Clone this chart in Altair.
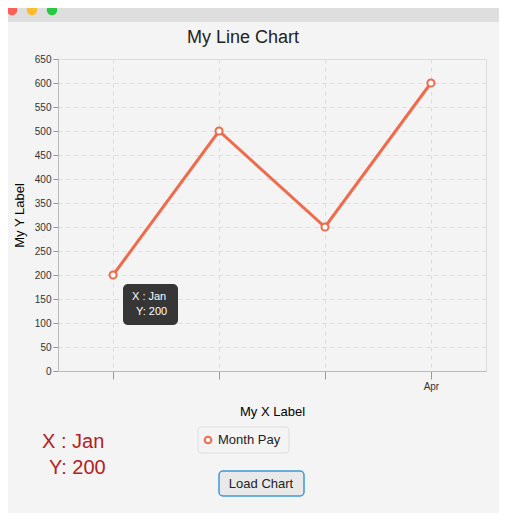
import altair as alt
import pandas as pd

months = ["Jan", "Feb", "Mar", "Apr"]
pay = [200, 500, 300, 600]
df = pd.DataFrame({"m": months, "v": pay})

OX, OY = 50, 51
W, H = 428, 312

x = alt.X("m:N", sort=months, scale=alt.Scale(type="point", padding=0.52),
          axis=alt.Axis(title="My X Label", labelAngle=0, grid=True, gridDash=[4, 4],
                        gridColor="#dddddd", labelExpr="datum.value == 'Apr' ? 'Apr' : ''",
                        titleFontWeight="normal", titleFontSize=13, titlePadding=14,
                        labelColor="#333", tickColor="#999", domainColor="#bbb", tickSize=8))
y = alt.Y("v:Q", scale=alt.Scale(domain=[0, 650], nice=False),
          axis=alt.Axis(title="My Y Label", values=list(range(0, 651, 50)), grid=True,
                        gridDash=[4, 4], gridColor="#dddddd", titleFontWeight="normal",
                        titleFontSize=13, labelColor="#333", tickColor="#999",
                        domainColor="#bbb", titlePadding=8))

line = alt.Chart(df).mark_line(color="#f06a4c", strokeWidth=3).encode(x=x, y=y)
pts = alt.Chart(df).mark_point(color="#f06a4c", fill="white", filled=True, size=50,
                               strokeWidth=2, stroke="#f06a4c", opacity=1).encode(x=x, y=y)

one = pd.DataFrame({"a": [0]})
base = alt.Chart(one)
titlebar = base.mark_rect(color="#dedede").encode(
    x=alt.value(-OX - 8), x2=alt.value(449 + 8), y=alt.value(-OY - 8), y2=alt.value(-OY + 14))
dots = alt.layer(*[
    base.mark_circle(size=110, opacity=1, color=c).encode(x=alt.value(px - 58), y=alt.value(10 - 59))
    for px, c in [(12, "#fc5f57"), (32, "#fdbc2e"), (52, "#28c840")]])
title = base.mark_text(text="My Line Chart", fontSize=18, color="#222").encode(
    x=alt.value(243 - 58), y=alt.value(38 - 59))
tip = base.mark_rect(color="#2b2b2b", cornerRadius=5, opacity=0.95).encode(
    x=alt.value(123 - 58), x2=alt.value(178 - 58), y=alt.value(284 - 59), y2=alt.value(325 - 59))
tip1 = base.mark_text(text="X : Jan", color="white", fontSize=11, align="left").encode(
    x=alt.value(132 - 58), y=alt.value(297 - 59))
tip2 = base.mark_text(text="Y: 200", color="white", fontSize=11, align="left").encode(
    x=alt.value(136 - 58), y=alt.value(312 - 59))
red1 = base.mark_text(text="X : Jan", color="#b22222", fontSize=20, align="left").encode(
    x=alt.value(42 - 58), y=alt.value(442 - 59))
red2 = base.mark_text(text="Y: 200", color="#b22222", fontSize=20, align="left").encode(
    x=alt.value(49 - 58), y=alt.value(468 - 59))
legbox = base.mark_rect(fill="#f4f4f4", stroke="#dddddd", cornerRadius=3).encode(
    x=alt.value(198 - 58), x2=alt.value(289 - 58), y=alt.value(427 - 59), y2=alt.value(453 - 59))
legpt = base.mark_point(color="#f06a4c", fill="white", filled=True, stroke="#f06a4c",
                        strokeWidth=2, size=45, opacity=1).encode(
    x=alt.value(208 - 58), y=alt.value(440 - 59))
legtx = base.mark_text(text="Month Pay", fontSize=13, color="#222", align="left").encode(
    x=alt.value(218 - 58), y=alt.value(440 - 59))
btn = base.mark_rect(fill="#e9e9e9", stroke="#3b99d6", strokeWidth=1.5, cornerRadius=4).encode(
    x=alt.value(219 - 58), x2=alt.value(304 - 58), y=alt.value(471 - 59), y2=alt.value(496 - 59))
btntx = base.mark_text(text="Load Chart", fontSize=13, color="#222").encode(
    x=alt.value(261 - 58), y=alt.value(484 - 59))

chart = alt.layer(titlebar, dots, title, line, pts, tip, tip1, tip2, red1, red2,
                  legbox, legpt, legtx, btn, btntx).properties(
    width=W, height=H, padding={"left": OX, "top": OY, "right": 13, "bottom": 142},
    autosize="none", background="#f4f4f4"
).configure_view(stroke=None).configure(font="Helvetica Neue, Liberation Sans, Arial")
chart.save("out.html", embed_options={"renderer": "svg", "actions": False})
